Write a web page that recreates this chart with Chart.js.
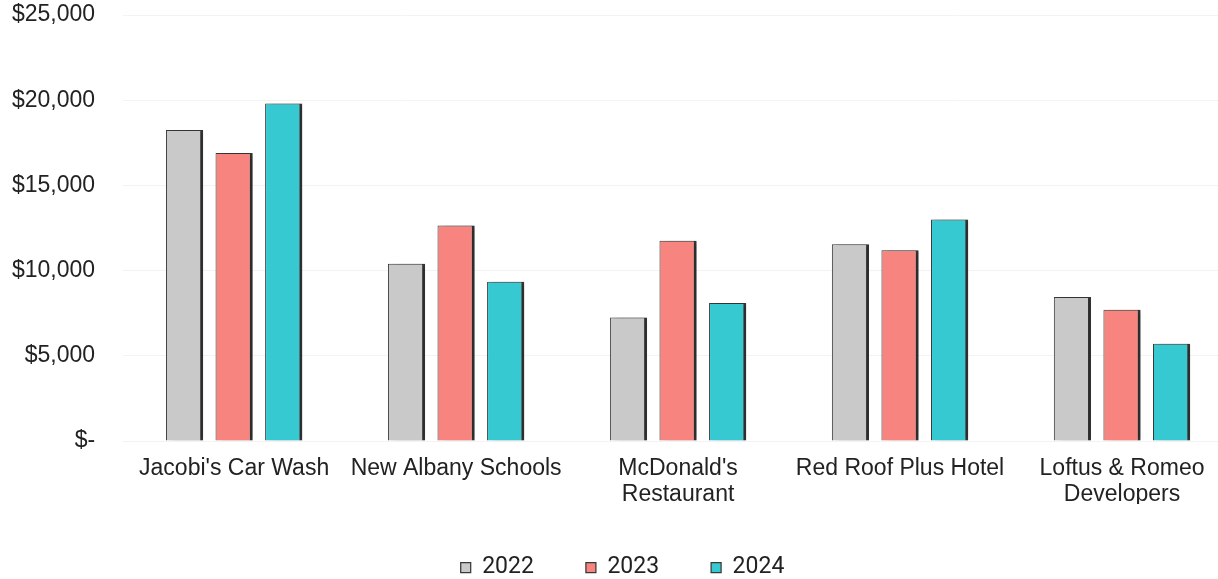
<!DOCTYPE html>
<html>
<head>
<meta charset="utf-8">
<script src="https://cdn.jsdelivr.net/npm/chart.js@4.4.0/dist/chart.umd.min.js"></script>
<style>
  html, body { margin: 0; padding: 0; background: #fff; overflow: hidden; }
  #wrap { width: 1245px; height: 579px; position: relative; }
</style>
</head>
<body>
<div id="wrap"><canvas id="chart"></canvas></div>
<script>
// chart data
const categories = [
    "Jacobi's Car Wash",
    "New Albany Schools",
    ["McDonald's", "Restaurant"],
    "Red Roof Plus Hotel",
    ["Loftus & Romeo", "Developers"]
];
const years = ["2022", "2023", "2024"];
const values2022 = [18250, 10400, 7250, 11550, 8450];
const values2023 = [16900, 12650, 11750, 11200, 7700];
const values2024 = [19800, 9350, 8100, 13000, 5700];
const yTicks = [0, 5000, 10000, 15000, 20000, 25000];

const fills = ["#c9c9c9", "#f7847e", "#36c9d2"];
const textColor = "#222";

// soft shadow to the right of each bar, like the original
const barShadow = {
    id: "barShadow",
    beforeDatasetsDraw(chart) {
        const ctx = chart.ctx;
        ctx.save();
        ctx.shadowColor = "rgba(0,0,0,0.28)";
        ctx.shadowBlur = 6;
        ctx.shadowOffsetX = 4;
        ctx.shadowOffsetY = 0;
    },
    afterDatasetsDraw(chart) {
        chart.ctx.restore();
    }
};

function makeSet(label, data, color) {
    return {
        label: label,
        data: data,
        backgroundColor: color,
        borderColor: "#3a3a3a",
        borderWidth: { left: 1, top: 1, right: 3, bottom: 0 },
        borderSkipped: false,
        categoryPercentage: 0.67,
        barPercentage: 0.75
    };
}

const ctx = document.getElementById("chart").getContext("2d");
new Chart(ctx, {
    type: "bar",
    data: {
        labels: categories,
        datasets: [
            makeSet(years[0], values2022, fills[0]),
            makeSet(years[1], values2023, fills[1]),
            makeSet(years[2], values2024, fills[2])
        ]
    },
    plugins: [barShadow],
    options: {
        responsive: true,
        maintainAspectRatio: false,
        animation: false,
        layout: { padding: { left: 12, right: 12, top: 0, bottom: -10 } },
        plugins: {
            tooltip: { enabled: false },
            legend: {
                position: "bottom",
                labels: {
                    boxWidth: 10,
                    boxHeight: 10,
                    padding: 52,
                    color: textColor,
                    font: { family: "Roboto, 'Liberation Sans', Arial", size: 23 }
                }
            }
        },
        scales: {
            x: {
                grid: { display: false, drawTicks: false },
                border: { display: false },
                ticks: {
                    color: textColor,
                    padding: 14,
                    maxRotation: 0,
                    autoSkip: false,
                    font: { family: "'Liberation Sans', Arial", size: 23, lineHeight: 1.15 }
                },
                // labels hang into the legend's empty top padding
                afterFit: function(axis) { axis.height = 63; }
            },
            y: {
                min: 0,
                max: 25000,
                afterBuildTicks: function(axis) {
                    axis.ticks = yTicks.map(v => ({ value: v }));
                },
                grid: { color: "#f3f3f3", drawTicks: false },
                border: { display: false },
                ticks: {
                    color: textColor,
                    padding: 28,
                    font: { family: "'Liberation Sans', Arial", size: 23 },
                    callback: function(v) {
                        if (v === 0) return "$-";
                        return "$" + v.toLocaleString("en-US");
                    }
                },
                // tick padding should only push the labels sideways, once
                afterFit: function(axis) {
                    axis.width -= 28;
                    axis.paddingTop = 15;
                    axis.paddingBottom = 14;
                }
            }
        }
    }
});
</script>
</body>
</html>
